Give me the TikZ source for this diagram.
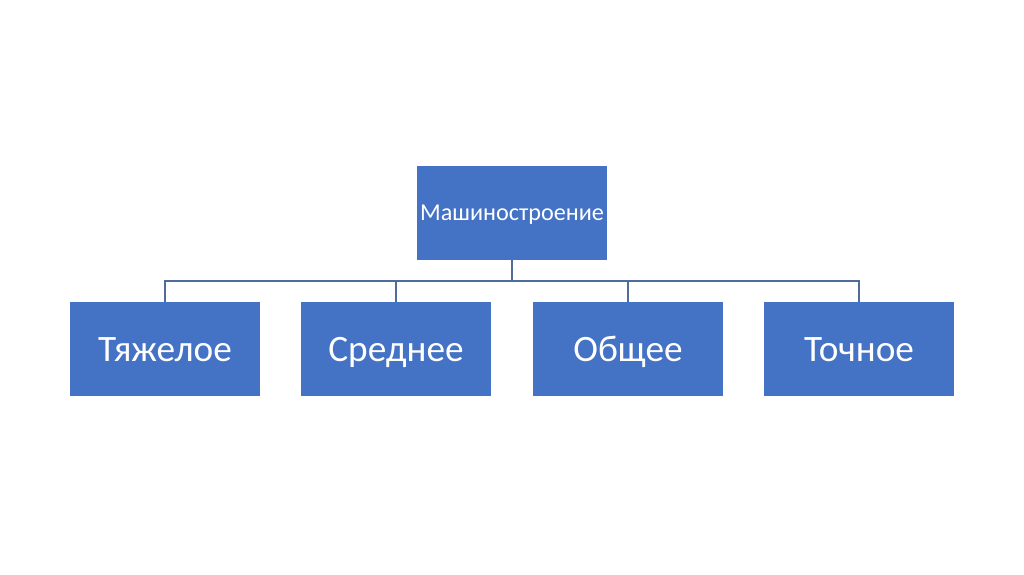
\documentclass[tikz,border=0pt]{standalone}
\usepackage{fontspec}
\setmainfont{Carlito}
\definecolor{boxblue}{HTML}{4472C4}
\definecolor{linkblue}{HTML}{4F6C9A}
\begin{document}
\begin{tikzpicture}[
	x=0.025cm,
	y=-0.025cm,
	line cap=rect,
	line join=miter,
	branch/.style={rectangle,fill=boxblue,text=white,minimum width=4.75cm,minimum height=2.35cm,inner sep=0pt},
	link/.style={draw=linkblue,line width=0.9pt}
	]
	\useasboundingbox (0,0) rectangle (1024,574);
	\node[branch,font=\fontsize{17.2}{20}\selectfont,text height=12pt,text depth=2pt] (mash) at (512,213) {Машиностроение};
	\begin{scope}[every node/.style={branch,font=\fontsize{26.5}{31}\selectfont,text height=19.6pt,text depth=1.2pt}]
		\node (heavy) at (165,349) {Тяжелое};
		\node (medium) at (396,349) {Среднее};
		\node (general) at (628,349) {Общее};
		\node (precise) at (859,349) {Точное};
	\end{scope}
	\coordinate (bus) at (512,281);
	\draw[link] (mash.south) -- (bus);
	\foreach \kind in {heavy,medium,general,precise}
		\draw[link] (bus) -| (\kind.north);
\end{tikzpicture}
\end{document}
